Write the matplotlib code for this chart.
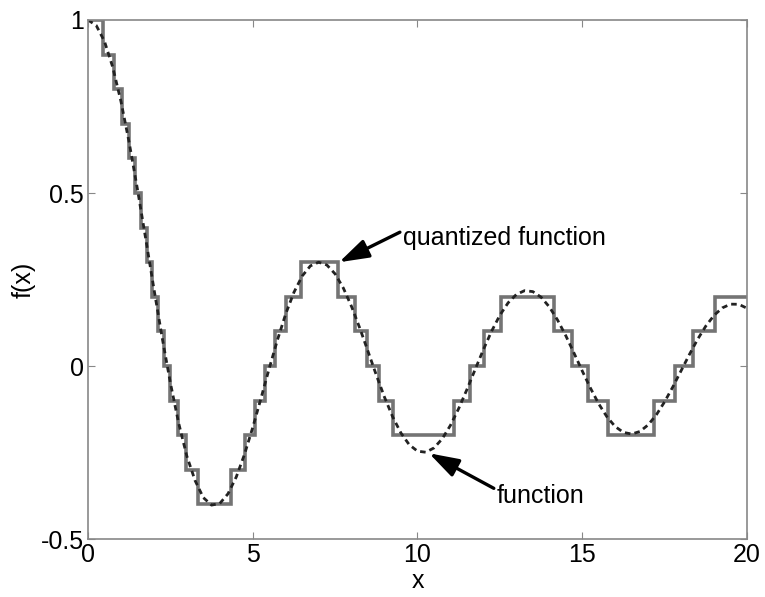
import numpy as np
import matplotlib
matplotlib.use("Agg")
import matplotlib.pyplot as plt

plt.rcParams['font.family'] = ['Liberation Sans', 'DejaVu Sans']

x_fn = np.linspace(0, 20, 81)
f_fn = [1.0000, 0.9844, 0.9385, 0.8642, 0.7652, 0.6459, 0.5118, 0.3690, 0.2239,
        0.0827, -0.0484, -0.1641, -0.2601, -0.3308, -0.3801, -0.4018, -0.3971,
        -0.3690, -0.3205, -0.2551, -0.1776, -0.0933, -0.0068, 0.0755, 0.1506,
        0.2130, 0.2601, 0.2895, 0.3001, 0.2920, 0.2663, 0.2253, 0.1717, 0.1092,
        0.0419, -0.0260, -0.0903, -0.1474, -0.1939, -0.2274, -0.2459, -0.2490,
        -0.2366, -0.2103, -0.1712, -0.1227, -0.0677, -0.0097, 0.0477, 0.1010,
        0.1470, 0.1828, 0.2069, 0.2179, 0.2151, 0.1991, 0.1711, 0.1331, 0.0878,
        0.0374, -0.0142, -0.0640, -0.1092, -0.1469, -0.1749, -0.1917, -0.1964,
        -0.1890, -0.1699, -0.1406, -0.1031, -0.0599, -0.0134, 0.0332, 0.0772,
        0.1157, 0.1466, 0.1681, 0.1789, 0.1785, 0.1670]

# quantized function: step edges and levels
q_edges = [0, 0.45, 0.79, 1.03, 1.24, 1.43, 1.61, 1.78, 1.95, 2.13, 2.31, 2.50,
           2.72, 2.97, 3.35, 4.35, 4.77, 5.08, 5.38, 5.67, 6.00, 6.45, 7.60, 8.09,
           8.47, 8.84, 9.26, 11.11, 11.58, 12.01, 12.52, 14.14, 14.69, 15.18,
           15.78, 17.17, 17.80, 18.35, 19.04, 20]
q_levels = [1.0, 0.9, 0.8, 0.7, 0.6, 0.5, 0.4, 0.3, 0.2, 0.1, 0.0, -0.1, -0.2,
            -0.3, -0.4, -0.3, -0.2, -0.1, 0.0, 0.1, 0.2, 0.3, 0.2, 0.1, 0.0,
            -0.1, -0.2, -0.1, 0.0, 0.1, 0.2, 0.1, 0.0, -0.1, -0.2, -0.1, 0.0,
            0.1, 0.2]

x_ticks = [0, 5, 10, 15, 20]
y_ticks = [-0.5, 0, 0.5, 1]
y_ticklabels = ['-0.5', '0', '0.5', '1']

fig = plt.figure(figsize=(7.65, 5.97), dpi=100)
ax = fig.add_axes([0.115, 0.097, 0.8615, 0.8695])

ax.stairs(q_levels, q_edges, baseline=None, color='#747474', linewidth=2.6)
ax.plot(x_fn, f_fn, color='#222222', linewidth=2.0, linestyle=(0, (2.0, 1.5)))

ax.set_xlim(0, 20)
ax.set_ylim(-0.5, 1)
ax.set_xticks(x_ticks)
ax.set_yticks(y_ticks)
ax.set_yticklabels(y_ticklabels)
ax.tick_params(direction='in', length=5, width=0.8, color='#888888',
               labelsize=18, top=True, right=True, pad=3)
for s in ax.spines.values():
    s.set_color('#888888')
    s.set_linewidth(1.2)

ax.set_xlabel('x', fontsize=18, labelpad=1)
ax.set_ylabel('f(x)', fontsize=18, labelpad=4)

arrow = dict(arrowstyle='-|>,head_length=1.0,head_width=0.32', color='black',
             lw=2.4, shrinkA=0, shrinkB=0)
ax.annotate('quantized function', xy=(7.62, 0.30), xytext=(9.55, 0.37),
            fontsize=18, va='center', ha='left',
            arrowprops=dict(arrow, relpos=(0, 0.8)))
ax.annotate('function', xy=(10.35, -0.252), xytext=(12.4, -0.375),
            fontsize=18, va='center', ha='left',
            arrowprops=dict(arrow, relpos=(0, 0.75)))

fig.savefig('out.png', dpi=100)
